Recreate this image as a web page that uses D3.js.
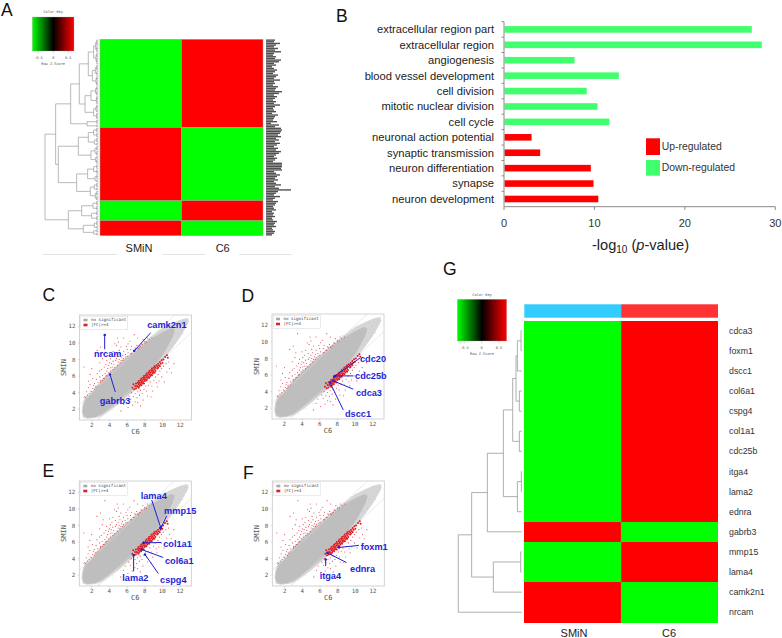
<!DOCTYPE html>
<html><head><meta charset="utf-8">
<script src="https://cdn.jsdelivr.net/npm/d3@7"></script>
<style>html,body{margin:0;padding:0;background:#fff}svg{display:block}</style>
</head><body><div id="chart"></div>
<script>
// ---------- Panel B data ----------
const goTerms = ["extracellular region part","extracellular region","angiogenesis","blood vessel development","cell division","mitotic nuclear division","cell cycle","neuronal action potential","synaptic transmission","neuron differentiation","synapse","neuron development"];
const goValues = [27.4,28.5,7.8,12.7,9.15,10.35,11.65,3.05,4.0,9.6,9.9,10.43];
const goGroup = ["down","down","down","down","down","down","down","up","up","up","up","up"];
const goTicks = [0,10,20,30];
// ---------- Heatmap A data ----------
const colNames = ["SMiN","C6"];
const blockRows = [53,44,12,9];
const blockSMiN = [-1,1,-1,1];
const blockC6 = [1,-1,1,-1];
const treeA = [160,
  [128,
    [83,
      [57,[30,[14,[8,4,4],[7,3,4]],[18,[9,4,3],[7,3,3]]],[40,[22,[8,3,3],[6,3,2]],[14,[7,3,2],[5,2,2]]]],
      [34,3,2]],
    [120,
      [60,[30,[14,3,3],[12,3,2]],[22,[10,3,3],[8,2,3]]],
      [65,[32,[14,3,3],[10,3,2]],[24,[12,3,2],[9,3,3]]]]],
  [90,[50,[16,3,3],[20,3,3]],[45,[12,3,2],[14,2,2]]]];
const rowLabelLens = [9,8,14,10,8,12,9,15,8,7,10,9,15,13,8,10,6,8,11,9,7,12,10,8,14,8,9,7,12,10,9,16,13,8,11,9,7,10,8,14,9,7,8,10,6,12,9,8,7,11,5,13,9,
  15,16,15,14,12,15,10,13,9,14,11,8,12,10,15,13,10,8,11,9,7,16,16,16,15,16,8,10,14,11,9,12,8,10,15,9,13,25,12,10,8,14,9,7,
  12,10,9,7,8,10,6,8,7,9,6,7,11,9,8,10,6,7,9,8,6];
// ---------- Heatmap G data ----------
const genes = ["cdca3","foxm1","dscc1","col6a1","cspg4","col1a1","cdc25b","itga4","lama2","ednra","gabrb3","mmp15","lama4","camk2n1","nrcam"];
const smin = [-1,-1,-1,-1,-1,-1,-1,-1,-1,-1,1,-1,-1,1,1];
const c6 = [1,1,1,1,1,1,1,1,1,1,-1,1,1,-1,-1];
const treeG = [190,
  [150,
    [103,
      [55,
        [27,
          [17,[13,[2,"cdca3","foxm1"],"dscc1"],[7,"col6a1","cspg4"]],
          [7,"col1a1","cdc25b"]],
        [13,[1,"itga4","lama2"],"ednra"]],
      "gabrb3"],
    [85,[3,"mmp15","lama4"],"camk2n1"]],
  "nrcam"];
const keyTicks = [-0.5,0,0.5];
// ---------- Scatter data (C6, SMIN) ----------
const xyTicks = [2,4,6,8,10,12];
const cloudOuter = [[0.85,1.7],[0.95,2.6],[1.2,3.4],[2,4.1],[3,5.4],[4,6.5],[5,7.5],[6,8.4],[7,9.3],[8,10.2],[9,11],[10,11.8],[11,12.3],[12,12.8],[12.8,13],[13,12.6],[12.5,11.6],[12,10.7],[11,9.2],[10,7.9],[9,6.7],[8,5.5],[7,4.4],[6,3.5],[5,2.6],[4,1.8],[3.1,1.15],[2.4,0.95],[1.5,0.85],[1,1]];
const cloudInner = [[0.95,1.7],[1.05,2.5],[1.3,3.2],[2,3.9],[3,5.2],[4,6.3],[5,7.3],[6,8.2],[7,9.1],[8,9.95],[9,10.7],[10,11.3],[11,11.8],[11.4,11.6],[11.2,10.8],[10.8,10],[10.4,9.2],[10,8.5],[9,7.1],[8,5.7],[7,4.7],[6,3.8],[5,2.9],[4,2.1],[3.1,1.4],[2.4,1.05],[1.5,0.95],[1.1,1.15]];
const greySpecks = [[11.6,12.3],[11.9,11.9],[12.2,12.4],[12.4,12.1],[12.6,12.6],[11.5,11.1],[11.8,11.2],[12.1,11.5],[10.9,9.7],[11.3,10.1],[11.1,9.5],[12.7,12.2],[12.9,12.9],[12.3,11.1],[2.8,0.95],[3.6,1.35],[4.4,1.95],[5.3,2.55],[6.3,3.5],[7.4,4.4],[1.05,3.45],[1.7,4.1],[2.5,4.9],[3.5,6],[4.5,7.1],[9.5,11.5],[8.6,10.8]];
const redUpper = [[3.5,11],[6.8,11],[7.2,10.6],[5.6,10.6],[5,10.1],[4.6,9.9],[4.8,9.7],[5.3,9.5],[6.1,9.9],[6.5,9.6],[7.1,9.7],[7.6,9.9],[7.8,10.4],[8,10.2],[8.3,10.6],[2.6,9.1],[3.3,8.7],[4,8.8],[4.4,9],[5.1,9.1],[5.6,9],[6,9.2],[6.4,9.2],[6.9,9.4],[7.3,9.3],[7.5,9.6],
 [1.1,7.1],[2,6.9],[1.8,6.2],[2.9,7.6],[3.2,8.1],[3.7,7.9],[4.1,8.1],[4.3,8.4],[4.7,8.6],[5,8.4],[5.2,8.7],[5.5,8.5],[5.8,8.6],[6.1,8.8],[6.4,8.7],[6.7,9],
 [3.4,7.1],[3.6,7.4],[3.9,7.3],[4,7.6],[4.2,7.5],[4.4,7.8],[4.5,7.4],[4.7,7.9],[4.8,8.1],[5,7.7],[5.1,8],[5.3,7.9],[5.4,8.2],[5.6,8.1],[5.8,8.3],[6,8.4],[4.1,7],[4.3,7.1],[3.7,6.6],[3.8,6.9],
 [2.3,5.1],[2.5,5.6],[2.7,5.2],[2.9,5.9],[3,5.5],[3.2,6.1],[3.3,5.7],[3.5,6.3],[3.6,6],[2.1,4.5],[2.2,4.9],[2.4,4.7],[2.6,6.3],[2.9,6.6],[3.1,6.8],[1.9,4.2],[1.7,3.9],[1.5,3.7],[1.3,3.4],[1.4,4.1],[1.6,4.6],[1.8,5],[2.1,5.7],
 [2.7,4.8],[3,5.3],[3.2,5.5],[3.4,5.7],[3.7,6.1],[3.9,6.4],[4.1,6.6],[4.4,6.8],[4.6,7],[4.9,7.3],[5.2,7.6],[5.5,7.9],[2.3,4.4],[2,4.1],[2.5,4.6],
 [6.5,8.7],[6.8,9],[7,9.3],[7.2,9.4],[7.4,9.5],[7.7,9.8],[8,10],[8.2,10.1],[8.5,10.4],[8.8,10.6],[3,9.5],[4.9,10.6],[6.3,10.2],[5.9,9.6],[1.6,5.4],[1.2,3.5]];
const redStreak = [[6.6,4.6],[6.7,5],[6.8,4.4],[6.9,4.8],[7,5.1],[7,4.5],[7.1,4.8],[7.2,5.2],[7.2,4.7],[7.3,5],[7.3,5.4],[7.4,4.8],[7.4,5.2],[7.5,5.5],[7.5,5],[7.6,5.3],[7.6,5.7],[7.7,5.1],[7.7,5.5],[7.8,5.8],[7.8,5.3],[7.9,5.6],[7.9,6],[8,5.4],[8,5.8],[8.1,6.1],[8.1,5.6],[8.2,5.9],[8.2,6.3],[8.3,5.7],[8.3,6.1],[8.4,6.4],[8.4,5.9],[8.5,6.2],[8.5,6.6],[8.6,6],[8.6,6.4],[8.7,6.7],[8.7,6.2],[8.8,6.5],[8.8,6.9],[8.9,6.3],[8.9,6.7],[9,7],[9,6.5],[9.1,6.8],[9.1,7.2],[9.2,6.6],[9.2,7],[9.3,7.3],[9.4,6.9],[9.4,7.2],[9.5,7.5],[9.5,7],[9.6,7.3],[9.7,7.7],[9.7,7.2],[9.8,7.5],[9.9,7.9],[10,7.6],[10.1,8],[10.3,8.3],[10.5,8.5],[10.6,8.2],[7.3,4.6],[7.6,4.9],[7.9,5.1],[8.2,5.5],[8.5,5.8],[8.8,6.1],[9.1,6.4]];
const redLower = [[6.2,3.6],[6.4,3.2],[6.5,4],[6.7,3.5],[6.9,3.9],[7.1,3.4],[7.2,4.1],[7.4,3.7],[7.5,4.3],[7.7,3.9],[7.9,4.4],[8.1,4.8],[8.2,4.2],[8.4,4.9],[8.6,5.3],[8.8,4.8],[9,5.5],[9.2,5.9],[9.3,5.2],[9.5,6.2],[9.7,6.6],[9.9,6.9],[10.1,7.2],[10.4,7.5],[10.7,7.7],[11,6.4],[10.5,6.5],[9.9,5.9],[10.2,5.3],[9.4,4.7],[8.9,4.2],[8.3,3.6],[7.8,3.1],[7.2,2.8],[6.9,2.9],[6.6,2.5],[5.8,3.1],[5.6,2.6],[5.3,1.8],[6.1,2.2],[7.5,2.4],[8.7,3.5],[9.6,5.4],[11.3,7.5],[10.8,6.9]];
// annotations: gene, point (C6, SMIN), line end (C6, SMIN), label anchor (C6, SMIN), text anchor
const annotC = [["camk2n1",6.8,9.05,8.66,11.23,8.26,12.15,"start"],["nrcam",3.45,10.95,3.45,9.25,3.79,8.65,"middle"],["gabrb3",4.05,6.2,4.65,4.09,4.62,3,"middle"]];
const annotD = [["cdc20",7.65,5.83,10.56,8.05,10.56,7.93,"start"],["cdc25b",7.73,5.9,9.8,5.9,10,5.87,"start"],["cdca3",7.54,5.3,9.8,4.3,10.1,3.9,"start"],["dscc1",7.16,5.1,8.67,1.8,8.86,1.27,"start"]];
const annotE = [["lama4",9.81,7.77,8.8,11.07,7.55,11.6,"start"],["mmp15",9.81,7.65,10.5,9.18,10.2,9.74,"start"],["col1a1",7.85,5.9,9.85,5.95,10.1,5.83,"start"],["col6a1",7.66,5.1,10.1,4.14,10.3,3.73,"start"],["cspg4",8.04,4.5,9.55,2.2,9.74,1.44,"start"],["lama2",6.75,4.42,6.75,2.48,5.47,1.68,"start"]];
const annotF = [["foxm1",8.15,5.35,10.4,5.6,10.6,5.47,"start"],["ednra",6.83,4.7,9,3.53,9.4,2.77,"start"],["itga4",6.64,3.9,6.64,3.09,5.96,1.96,"start"]];

// ---------- Drawing ----------
const SANS = "'Liberation Sans',Arial,sans-serif", MONO = "'DejaVu Sans Mono',monospace";
const svg = d3.select("#chart").append("svg").attr("width",782).attr("height",638);
const heatColor = d3.scaleLinear().domain([-1,0,1]).range(["#00ff00","#000000","#ff0000"]);
const soft = svg.append("filter").attr("id","soft").attr("x","-5%").attr("y","-5%").attr("width","110%").attr("height","110%");
soft.append("feGaussianBlur").attr("stdDeviation",0.5);

[["A",1,16],["B",336,21.5],["C",42.5,301],["D",241.5,302],["E",42.5,477],["F",243,479],["G",443,275]].forEach(([t,x,y])=>
  svg.append("text").attr("x",x).attr("y",y).attr("font-family",SANS).attr("font-size",17.5).attr("fill","#111").text(t));

// colour key
let keyId = 0;
function colorKey(x0,x1,y0,y1,tickCentre){
  const id="key"+(keyId++);
  const g=svg.append("linearGradient").attr("id",id);
  [-1,-0.5,0,0.5,1].forEach(v=>g.append("stop").attr("offset",((v+1)/2*100)+"%").attr("stop-color",heatColor(v)));
  svg.append("rect").attr("x",x0).attr("y",y0).attr("width",x1-x0).attr("height",y1-y0).attr("fill",`url(#${id})`).attr("stroke","#aaa").attr("stroke-width",0.3);
  const t=d3.scaleLinear().domain([-0.5,0.5]).range(tickCentre);
  const small=(x,y,s)=>svg.append("text").attr("x",x).attr("y",y).attr("text-anchor","middle").attr("dominant-baseline","middle").attr("font-family",MONO).attr("font-size",3.6).attr("fill","#555").text(s);
  small((x0+x1)/2,y0-4.6,"Color Key");
  keyTicks.forEach(v=>{ small(t(v),y1+7.5,v); svg.append("line").attr("x1",t(v)).attr("x2",t(v)).attr("y1",y1).attr("y2",y1+2.5).attr("stroke","#888").attr("stroke-width",0.3);});
  small((x0+x1)/2,y1+13,"Row Z-Score");
}

// generic dendrogram: nested [height, left, right]; a number is a fan of rows, a string one named row
function dendro(tree,xs,rowOf,stroke,sw,fanH){
  const g=svg.append("g").attr("fill","none").attr("stroke",stroke).attr("stroke-width",sw);
  const seg=(a,b,c,d)=>g.append("line").attr("x1",a).attr("y1",b).attr("x2",c).attr("y2",d);
  function walk(n){
    if(typeof n==="string") return {h:0,y:rowOf(n)};
    if(typeof n==="number"){
      const ys=d3.range(n).map(()=>rowOf());
      ys.forEach(y=>seg(xs(fanH),y,xs(0),y));
      seg(xs(fanH),ys[0],xs(fanH),ys[n-1]);
      return {h:fanH,y:(ys[0]+ys[n-1])/2};
    }
    const kids=n.slice(1).map(walk);
    const y0=kids[0].y,y1=kids[1].y;
    seg(xs(n[0]),y0,xs(n[0]),y1);
    kids.forEach(k=>seg(xs(n[0]),k.y,xs(k.h),k.y));
    return {h:n[0],y:(y0+y1)/2};
  }
  walk(tree);
}

// ---------- A ----------
(function(){
  const total=d3.sum(blockRows);
  const y=d3.scaleLinear().domain([0,total]).range([39.3,235.7]);
  const x=d3.scaleBand().domain(colNames).range([100,263]);
  colorKey(32.3,74,17,51,[38.3,68.3]);
  const ends=d3.cumsum(blockRows);
  blockRows.forEach((n,i)=>{
    const start=ends[i]-n;
    [[colNames[0],blockSMiN[i]],[colNames[1],blockC6[i]]].forEach(([c,v])=>
      svg.append("rect").attr("x",x(c)).attr("y",y(start)).attr("width",x.bandwidth()).attr("height",y(ends[i])-y(start))
        .attr("fill",heatColor(v)).attr("stroke","#9aa58a").attr("stroke-width",0.5));
  });
  let r=0;
  dendro(treeA,d3.scaleLinear().domain([0,160]).range([98.3,45]),()=>y(r++ +0.5),"#9c9c9c",0.7,5);
  // illegible row labels rendered as dark ticks
  svg.append("g").attr("filter","url(#soft)").selectAll("line").data(rowLabelLens).join("line")
    .attr("x1",266).attr("x2",d=>266+d).attr("y1",(d,i)=>y(i+0.5)).attr("y2",(d,i)=>y(i+0.5))
    .attr("stroke","#333").attr("stroke-width",1.4).attr("opacity",0.85);
  colNames.forEach((c,i)=>svg.append("text").attr("x",[139,222.7][i]).attr("y",251.5).attr("text-anchor","middle")
    .attr("font-family",SANS).attr("font-size",11).attr("fill","#222").text(c));
  [[42.7,116.7],[162,205.7],[239,291.7]].forEach(([a,b])=>svg.append("line").attr("x1",a).attr("x2",b).attr("y1",254.5).attr("y2",254.5).attr("stroke","#d8d8d8").attr("stroke-width",0.7));
})();

// ---------- B ----------
(function(){
  const x=d3.scaleLinear().domain([0,30]).range([504,775.3]);
  const y=d3.scaleBand().domain(goTerms).range([21.7,206.7]);
  const col={up:"#ff0000",down:"#40ff6e"};
  svg.append("g").selectAll("rect").data(goTerms).join("rect")
    .attr("x",x(0)+0.5).attr("y",d=>y(d)+y.bandwidth()/2-3.3).attr("height",6.6)
    .attr("width",(d,i)=>x(goValues[i])-x(0)-0.5).attr("fill",(d,i)=>col[goGroup[i]]);
  const ax=svg.append("g").attr("stroke","#8a8a8a").attr("stroke-width",1);
  ax.append("line").attr("x1",x(0)).attr("x2",x(0)).attr("y1",21.7).attr("y2",206.7);
  ax.append("line").attr("x1",x(0)).attr("x2",x(30)).attr("y1",206.7).attr("y2",206.7);
  goTerms.forEach(d=>ax.append("line").attr("x1",x(0)-2.5).attr("x2",x(0)).attr("y1",y(d)).attr("y2",y(d)));
  goTicks.forEach(v=>{
    ax.append("line").attr("x1",x(v)).attr("x2",x(v)).attr("y1",206.7).attr("y2",210);
    svg.append("text").attr("x",x(v)).attr("y",226.7).attr("text-anchor","middle").attr("font-family",SANS).attr("font-size",11).attr("fill","#333").text(v);
  });
  goTerms.forEach(d=>svg.append("text").attr("x",494).attr("y",y(d)+y.bandwidth()/2+3.9).attr("text-anchor","end")
    .attr("font-family",SANS).attr("font-size",11.2).attr("fill","#222").text(d));
  const t=svg.append("text").attr("x",640.5).attr("y",250).attr("text-anchor","middle").attr("font-family",SANS).attr("font-size",14.6).attr("fill","#222");
  t.append("tspan").text("-log");
  t.append("tspan").attr("font-size",10).attr("dy",3).text("10");
  t.append("tspan").attr("dy",-3).text(" (");
  t.append("tspan").attr("font-style","italic").text("p");
  t.append("tspan").text("-value)");
  [["Up-regulated",col.up,138.3,155,146.7],["Down-regulated",col.down,160,175.7,167.7]].forEach(([s,c,a,b,m])=>{
    svg.append("rect").attr("x",646).attr("y",a).attr("width",14).attr("height",b-a).attr("fill",c);
    svg.append("text").attr("x",661.7).attr("y",m+3.5).attr("font-family",SANS).attr("font-size",10.4).attr("fill","#333").text(s);
  });
})();

// ---------- C-F scatter ----------
function scatter(id,left,top,annot){
  const W=112,H=105;
  const x=d3.scaleLinear().domain([0.6,13.28]).range([left,left+W]);
  const y=d3.scaleLinear().domain([0.7,13.37]).range([top+H,top]);
  const g=svg.append("g");
  const clip="clip"+id;
  g.append("clipPath").attr("id",clip).append("rect").attr("x",left).attr("y",top).attr("width",W).attr("height",H);
  const plot=g.append("g").attr("clip-path",`url(#${clip})`);
  const area=d3.line().x(d=>x(d[0])).y(d=>y(d[1])).curve(d3.curveLinearClosed);
  plot.append("path").attr("d",area(cloudOuter)).attr("fill","#d6d6d6").attr("filter","url(#soft)");
  plot.append("path").attr("d",area(cloudInner)).attr("fill","#bebebe").attr("filter","url(#soft)");
  [2,-2].forEach(o=>plot.append("line").attr("x1",x(0)).attr("y1",y(o)).attr("x2",x(14)).attr("y2",y(14+o)).attr("stroke","#dcdcdc").attr("stroke-width",0.6));
  plot.append("g").selectAll("circle").data(greySpecks).join("circle").attr("cx",d=>x(d[0])).attr("cy",d=>y(d[1])).attr("r",0.45).attr("fill","#bbb");
  plot.append("g").selectAll("circle").data(redUpper).join("circle").attr("cx",d=>x(d[0])).attr("cy",d=>y(d[1])).attr("r",0.55).attr("fill","#d9232a").attr("opacity",0.85);
  plot.append("g").selectAll("circle").data(redLower).join("circle").attr("cx",d=>x(d[0])).attr("cy",d=>y(d[1])).attr("r",0.55).attr("fill","#d9232a").attr("opacity",0.85);
  plot.append("g").selectAll("circle").data(redStreak).join("circle").attr("cx",d=>x(d[0])).attr("cy",d=>y(d[1])).attr("r",1).attr("fill","#e01a1f");
  g.append("rect").attr("x",left).attr("y",top).attr("width",W).attr("height",H).attr("fill","none").attr("stroke","#c8c8c8").attr("stroke-width",0.8);
  xyTicks.forEach(v=>{
    g.append("text").attr("x",x(v)).attr("y",top+H+6.7).attr("text-anchor","middle").attr("font-family",MONO).attr("font-size",5.8).attr("fill","#555").text(v);
    g.append("text").attr("x",left-4).attr("y",y(v)+2).attr("text-anchor","end").attr("font-family",MONO).attr("font-size",5.8).attr("fill","#555").text(v);
    g.append("line").attr("x1",x(v)).attr("x2",x(v)).attr("y1",top+H).attr("y2",top+H+1.5).attr("stroke","#aaa").attr("stroke-width",0.4);
    g.append("line").attr("x1",left-1.5).attr("x2",left).attr("y1",y(v)).attr("y2",y(v)).attr("stroke","#aaa").attr("stroke-width",0.4);
  });
  g.append("text").attr("x",left+56).attr("y",top+H+14).attr("text-anchor","middle").attr("font-family",MONO).attr("font-size",7).attr("fill","#555").text("C6");
  g.append("text").attr("transform",`translate(${left-13.5},${top+H/2}) rotate(-90)`).attr("text-anchor","middle").attr("font-family",MONO).attr("font-size",7).attr("fill","#555").text("SMIN");
  // legend
  g.append("rect").attr("x",left+1.3).attr("y",top+1.3).attr("width",47).attr("height",13.4).attr("fill","#fff").attr("fill-opacity",0.9).attr("stroke","#ccc").attr("stroke-width",0.4);
  [["no significant","#aaa",5],["|FC|>=4","#d9232a",10]].forEach(([s,c,o])=>{
    g.append("rect").attr("x",left+4).attr("y",top+o-1.3).attr("width",4).attr("height",2.6).attr("fill",c);
    g.append("text").attr("x",left+11.4).attr("y",top+o+1.2).attr("font-family",MONO).attr("font-size",4.2).attr("fill","#444").text(s);
  });
  // annotations
  const blue="#1f1fd6";
  annot.forEach(([name,px,py,ex,ey,lx,ly,anc])=>{
    g.append("line").attr("x1",x(px)).attr("y1",y(py)).attr("x2",x(ex)).attr("y2",y(ey)).attr("stroke",blue).attr("stroke-width",1);
    g.append("circle").attr("cx",x(px)).attr("cy",y(py)).attr("r",1.2).attr("fill",blue);
    g.append("text").attr("x",x(lx)).attr("y",y(ly)+3.2).attr("text-anchor",anc).attr("font-family",SANS).attr("font-weight","bold").attr("font-size",9.2).attr("fill",blue).text(name);
  });
}
scatter("C",79.5,315,annotC);
scatter("D",272,314,annotD);
scatter("E",79.3,481,annotE);
scatter("F",272.3,481,annotF);

// ---------- G ----------
(function(){
  const x=d3.scaleBand().domain(colNames).range([524.3,718]);
  const y=d3.scaleBand().domain(genes).range([320.7,622.3]);
  colorKey(457.3,506.7,299.3,341,[464.3,499]);
  const barCol=["#33ccff","#ff3333"];
  colNames.forEach((c,i)=>{
    svg.append("rect").attr("x",x(c)).attr("y",304.3).attr("width",x.bandwidth()).attr("height",13.4).attr("fill",barCol[i]);
    svg.append("text").attr("x",[574,669][i]).attr("y",637).attr("text-anchor","middle").attr("font-family",SANS).attr("font-size",11).attr("fill","#222").text(c);
  });
  genes.forEach((g,i)=>{
    [[colNames[0],smin[i]],[colNames[1],c6[i]]].forEach(([c,v])=>
      svg.append("rect").attr("x",x(c)).attr("y",y(g)).attr("width",x.bandwidth()).attr("height",y.bandwidth()+0.3).attr("fill",heatColor(v)).attr("shape-rendering","crispEdges"));
    svg.append("text").attr("x",729).attr("y",y(g)+y.bandwidth()/2+3).attr("font-family",SANS).attr("font-size",8.8).attr("fill","#333").text(g);
  });
  svg.append("line").attr("x1",x.range()[0]+x.bandwidth()).attr("x2",x.range()[0]+x.bandwidth()).attr("y1",320.7).attr("y2",622.3).attr("stroke","#8a9a60").attr("stroke-width",0.5);
  dendro(treeG,d3.scaleLinear().domain([0,190]).range([521.7,458.3]),n=>y(n)+y.bandwidth()/2,"#9a9a9a",0.8,0);
})();
</script></body></html>
